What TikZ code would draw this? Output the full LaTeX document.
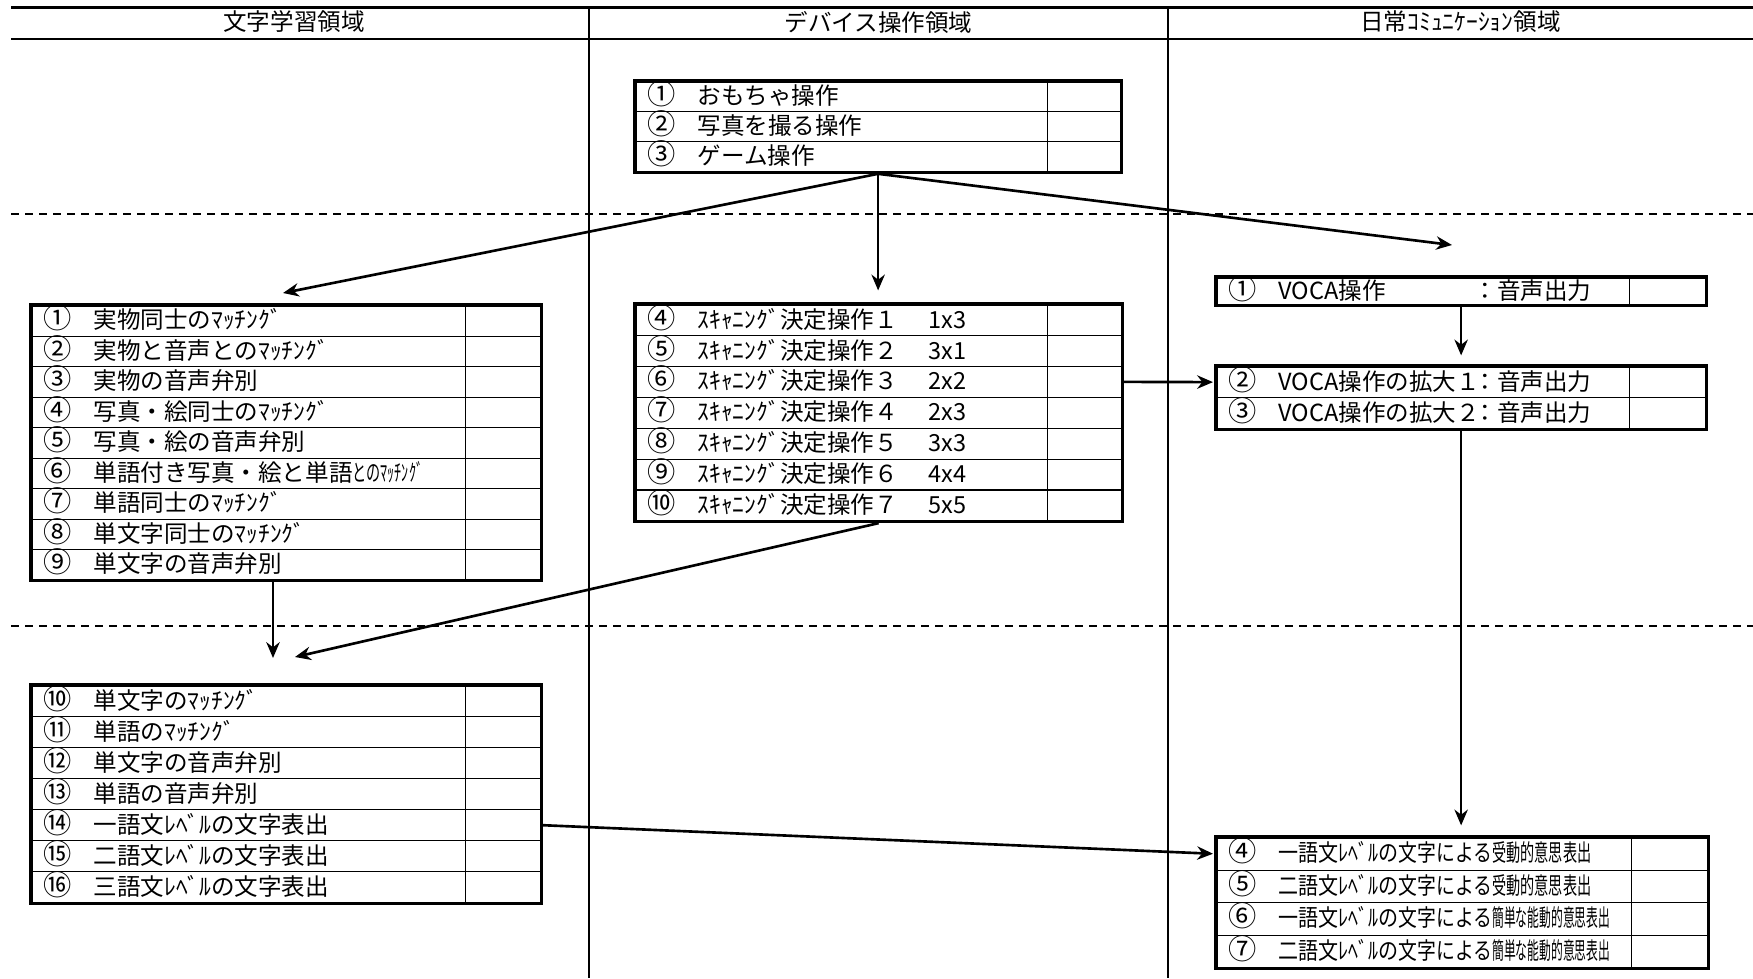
\documentclass[tikz,border=0pt]{standalone}
\usepackage{fontspec}
\usepackage{graphicx}
\setmainfont{Noto Sans CJK JP}
\usetikzlibrary{positioning, arrows.meta, fit}
\newcommand{\cnum}[1]{\makebox[0.5cm][l]{\scalebox{1.2}{#1}}}
\newcommand{\scanop}[2]{\makebox[2.31cm][l]{ｽｷｬﾆﾝｸﾞ決定操作#1}#2}
\newcommand{\voca}[1]{\makebox[1.95cm][l]{VOCA操作#1}：音声出力}

\begin{document}
\begin{tikzpicture}[font=\fontsize{6.7}{8}\selectfont,
  rule/.style={line width=0.85pt},
  sep/.style={line width=0.4pt},
  band/.style={line width=0.4pt, dash pattern=on 0.8mm off 0.6mm},
  head/.style={inner sep=0pt},
  row/.style={draw, line width=0.35pt, anchor=north west, inner xsep=0.12cm, inner ysep=0pt, text height=5.6pt, text depth=1pt},
  frame/.style={draw, line width=0.9pt, inner sep=0pt},
  ar/.style={-{Stealth[length=4.5pt, width=3.8pt]}, line width=0.75pt}]

\useasboundingbox (0,0) rectangle (17.53,-9.78);

% table heading and the three areas
\draw[rule] (0.11,-0.07) -- (17.53,-0.07);
\draw[line width=0.6pt] (0.11,-0.39) -- (17.53,-0.39);
\draw[sep] (5.89,-0.07) -- (5.89,-9.78);
\draw[sep] (11.68,-0.07) -- (11.68,-9.78);
\draw[band] (0.11,-2.14) -- (17.53,-2.14);
\draw[band] (0.11,-6.26) -- (17.53,-6.26);
\node[head] (h1) at (2.94,-0.22) {文字学習領域};
\node[head] (h2) at (8.785,-0.22) {デバイス操作領域};
\node[head] (h3) at (14.605,-0.22) {日常ｺﾐｭﾆｹｰｼｮﾝ領域};

% device operation
\foreach \txt [count=\i] in {\cnum{①}おもちゃ操作, \cnum{②}写真を撮る操作, \cnum{③}ゲーム操作}
  \node[row, minimum height=0.30cm] (a\i) at (6.35,{-0.81-(\i-1)*0.30}) {\makebox[4.61cm][l]{\txt}};
\node[frame, fit=(a1)(a3)] (A) {};
\draw[sep] ([xshift=4.14cm]A.north west) -- ([xshift=4.14cm]A.south west);

\foreach \txt [count=\i] in {\cnum{④}\scanop{１}{1x3}, \cnum{⑤}\scanop{２}{3x1}, \cnum{⑥}\scanop{３}{2x2},
    \cnum{⑦}\scanop{４}{2x3}, \cnum{⑧}\scanop{５}{3x3}, \cnum{⑨}\scanop{６}{4x4}, \cnum{⑩}\scanop{７}{5x5}}
  \node[row, minimum height=0.309cm] (b\i) at (6.35,{-3.04-(\i-1)*0.309}) {\makebox[4.62cm][l]{\txt}};
\node[frame, fit=(b1)(b7)] (B) {};
\draw[sep] ([xshift=4.14cm]B.north west) -- ([xshift=4.14cm]B.south west);

% letter learning
\foreach \txt [count=\i] in {\cnum{①}実物同士のﾏｯﾁﾝｸﾞ, \cnum{②}実物と音声とのﾏｯﾁﾝｸﾞ, \cnum{③}実物の音声弁別,
    \cnum{④}写真・絵同士のﾏｯﾁﾝｸﾞ, \cnum{⑤}写真・絵の音声弁別, \cnum{⑥}単語付き写真・絵と単語\scalebox{0.6}[1]{とのﾏｯﾁﾝｸﾞ},
    \cnum{⑦}単語同士のﾏｯﾁﾝｸﾞ, \cnum{⑧}単文字同士のﾏｯﾁﾝｸﾞ, \cnum{⑨}単文字の音声弁別}
  \node[row, minimum height=0.305cm] (c\i) at (0.31,{-3.05-(\i-1)*0.305}) {\makebox[4.85cm][l]{\txt}};
\node[frame, fit=(c1)(c9)] (C) {};
\draw[sep] ([xshift=4.36cm]C.north west) -- ([xshift=4.36cm]C.south west);

\foreach \txt [count=\i] in {\cnum{⑩}単文字のﾏｯﾁﾝｸﾞ, \cnum{⑪}単語のﾏｯﾁﾝｸﾞ, \cnum{⑫}単文字の音声弁別, \cnum{⑬}単語の音声弁別,
    \cnum{⑭}一語文ﾚﾍﾞﾙの文字表出, \cnum{⑮}二語文ﾚﾍﾞﾙの文字表出, \cnum{⑯}三語文ﾚﾍﾞﾙの文字表出}
  \node[row, minimum height=0.31cm] (d\i) at (0.31,{-6.85-(\i-1)*0.31}) {\makebox[4.85cm][l]{\txt}};
\node[frame, fit=(d1)(d7)] (D) {};
\draw[sep] ([xshift=4.36cm]D.north west) -- ([xshift=4.36cm]D.south west);

% daily communication
\node[row, minimum height=0.27cm] (e1) at (12.16,-2.77) {\makebox[4.65cm][l]{\cnum{①}\voca{}}};
\node[frame, fit=(e1)] (E) {};
\draw[sep] ([xshift=4.15cm]E.north west) -- ([xshift=4.15cm]E.south west);

\foreach \txt [count=\i] in {\cnum{②}\voca{の拡大１}, \cnum{③}\voca{の拡大２}}
  \node[row, minimum height=0.31cm] (f\i) at (12.16,{-3.66-(\i-1)*0.31}) {\makebox[4.65cm][l]{\txt}};
\node[frame, fit=(f1)(f2)] (F) {};
\draw[sep] ([xshift=4.15cm]F.north west) -- ([xshift=4.15cm]F.south west);

\foreach \txt [count=\i] in {
    \cnum{④}\scalebox{0.85}[1]{一語文ﾚﾍﾞﾙの}\scalebox{0.8}[1]{文字による}\scalebox{0.6}[1]{受動的意思表出},
    \cnum{⑤}\scalebox{0.85}[1]{二語文ﾚﾍﾞﾙの}\scalebox{0.8}[1]{文字による}\scalebox{0.6}[1]{受動的意思表出},
    \cnum{⑥}\scalebox{0.85}[1]{一語文ﾚﾍﾞﾙの}\scalebox{0.8}[1]{文字による}\scalebox{0.5}[1]{簡単な能動的意思表出},
    \cnum{⑦}\scalebox{0.85}[1]{二語文ﾚﾍﾞﾙの}\scalebox{0.8}[1]{文字による}\scalebox{0.5}[1]{簡単な能動的意思表出}}
  \node[row, minimum height=0.325cm] (g\i) at (12.16,{-8.37-(\i-1)*0.325}) {\makebox[4.67cm][l]{\txt}};
\node[frame, fit=(g1)(g4)] (G) {};
\draw[sep] ([xshift=4.17cm]G.north west) -- ([xshift=4.17cm]G.south west);

% free ends of the arrows
\coordinate (ac) at (2.83,-2.93);
\coordinate (ae) at (14.52,-2.45);
\coordinate (cd) at (2.73,-6.58);
\coordinate (bd) at (2.95,-6.57);

% from the device basics into all three areas
\draw[ar] (A.south) -- (ac);
\draw[ar, shorten >=0.12cm] (A.south) -- (A.south |- B.north);
\draw[ar] (A.south) -- (ae);

% steps inside the areas
\draw[ar, shorten >=0.09cm] (E.south) -- (F.north);
\draw[ar] (C.south -| cd) -- (cd);
\draw[ar, shorten >=0.10cm] (F.south) -- (F.south |- G.north);

% links across areas
\draw[ar, shorten >=0.03cm] (b3.east) -- (f1.west);
\draw[ar] (B.south) -- (bd);
\draw[ar, shorten >=0.03cm] (d5.east) -- (g1.west);
\end{tikzpicture}
\end{document}
